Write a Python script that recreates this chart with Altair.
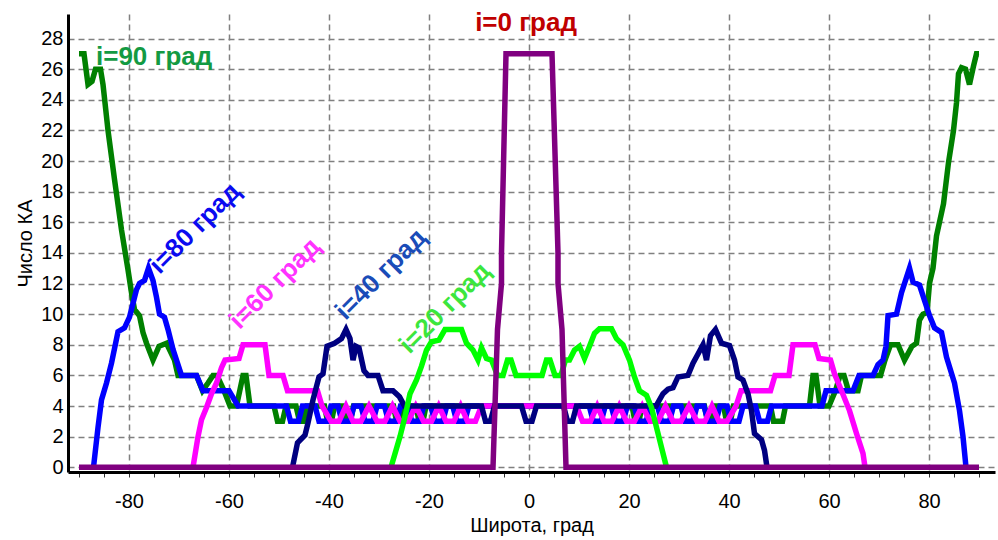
import altair as alt
import pandas as pd

# ---- data (latitude breakpoints, number of satellites) ----
i90_lat = [-90, -89, -88.2, -87.4, -86.7, -85.7, -85.2, -84.2, -82.9, -81.5, -80.2, -79.5, -78.9, -77.9, -77.2,
           -76.5, -75.2, -74, -72.5, -70.9, -70.2, -66.5, -65.3, -64.2, -63.2, -62.4, -61, -59.8, -58.5, -57.2,
           -56.6, -55.8, -51, -50.3, -49.3, -48.6, -46.6, -45.9, -45.1, -44.4, -40.9, -40.3, -39.5, -38.9, -37.1,
           -36.5, -35.7, -35.1, -27.1, -26.5, -25.8, -25.2, -22.6, -22, -21.2, -20.6,
           20.6, 21.2, 22, 22.6, 35.1, 35.7, 36.5, 37.1, 38.9, 39.5, 40.3, 40.9, 48.3, 48.9, 50.7, 51.3, 56.1,
           56.8, 57.4, 58.2, 60, 61.3, 62.2, 63, 63.9, 65.8, 66.5, 70.3, 71.2, 72.3, 73.8, 75.1, 76.6, 77.5, 78.1,
           78.8, 79.6, 80.1, 80.8, 81.5, 82.9, 83.9, 84.9, 85.5, 85.9, 86.5, 87.3, 88.1, 88.9, 89.5, 90]
i90_val = [27, 27, 25, 25.2, 26, 26, 25, 22, 18.8, 15.5, 12.9, 11.4, 10.3, 9.9, 8.8,
           8.1, 7, 7.9, 8.1, 7, 6, 6, 5, 5.5, 6, 6, 5, 4, 4, 6,
           6, 4, 4, 3, 3, 4, 4, 3, 3, 4, 4, 3, 3, 4, 4,
           3, 3, 4, 4, 3, 3, 4, 4, 3, 3, 4,
           4, 3, 3, 4, 4, 3, 3, 4, 4, 3, 3, 4, 4, 3, 3, 4, 4,
           6, 6, 4, 4, 5, 6, 6, 5, 5, 6, 6, 7, 8, 8, 7, 7.9, 8.1, 9.6,
           10, 10.1, 12, 13, 15.1, 17.2, 19.9, 22, 23.8, 25.7, 26.1, 26, 25, 26.2, 27, 27]

i80_lat = [-87.1, -86.2, -85.5, -84.5, -83.5, -82.2, -80.9, -79.9, -78.5, -77.9, -76.9, -76.1, -75.2, -74.5,
           -73.9, -72.9, -72.2, -71.2, -70.5, -69.5, -66.5, -65.2, -60, -58.2,
           -48.5, -47.7, -46.1, -45.3, -42.8, -42, -40.4, -39.6, -38.2, -37.4, -35.8, -35, -33.6, -32.8, -31.2,
           -30.4, -28.9, -28.1, -26.5, -25.7, -24.25, -23.45, -21.85, -21.05, -19.65, -18.85, -17.25, -16.45,
           -15.25, -14.45, -12.85, -12.05,
           12.05, 12.85, 14.45, 15.25, 16.45, 17.25, 18.85, 19.65, 21.05, 21.85, 23.45, 24.25, 25.7, 26.5, 28.1,
           28.9, 30.4, 31.2, 32.8, 33.6, 35, 35.8, 37.4, 38.2, 39.6, 40.4, 42, 42.8, 45.3, 46.1, 47.7, 48.5,
           58.6, 59.4, 64.8, 66, 68.8, 69.8, 70.8, 71.4, 71.8, 73.5, 74.5, 75.5, 76.1, 76.8, 78.1, 79.1, 80.1,
           81.1, 82.5, 83.5, 85.1, 86.1, 86.8, 87.4]
i80_val = [0, 2.6, 4.4, 5.5, 6.8, 8.85, 9.1, 9.8, 11.6, 12, 12.2, 13, 12.2, 11.1,
           10, 9.8, 9, 7.7, 7, 6, 6, 5, 5, 4,
           4, 3, 3, 4, 4, 3, 3, 4, 4, 3, 3, 4, 4, 3, 3,
           4, 4, 3, 3, 4, 4, 3, 3, 4, 4, 3, 3, 4,
           4, 3, 3, 4,
           4, 3, 3, 4, 4, 3, 3, 4, 4, 3, 3, 4, 4, 3, 3,
           4, 4, 3, 3, 4, 4, 3, 3, 4, 4, 3, 3, 4, 4, 3, 3, 4,
           4, 5, 5, 6, 6, 6.7, 7, 7.9, 9.9, 10, 11.4, 12.4, 13, 12.1, 11.9, 10.9, 9.9,
           9.1, 8.8, 7.2, 5.5, 3.7, 2, 0]

i60_lat = [-67.2, -66.2, -65.5, -64.5, -63.5, -62.5, -61.5, -60.8, -58, -57.2, -52.8, -52, -49.2, -48.3,
           -42.3, -41.4, -39.6, -38, -36.6, -35.2, -33.6, -32, -30.4, -28.8, -27.3, -25.8, -24.2, -22.65,
           -21.1, -19.5, -18.05, -16.6, -15, -13.65, -12.3, -10.7, -9.5,
           9.5, 10.7, 12.3, 13.65, 15, 16.6, 18.05, 19.5, 21.1, 22.65, 24.2, 25.8, 27.3, 28.8, 30.4, 32, 33.6,
           35.2, 36.6, 38, 39.6, 41.4, 42.4, 48.3, 49.2, 52, 52.8, 57.2, 58, 60.3, 61.1, 62.5, 64.1, 65.5,
           66.8, 67.2]
i60_val = [0, 2, 3.1, 3.9, 4.8, 5.5, 6.5, 7, 7.1, 8, 8, 6, 6, 5,
           5, 4, 3, 3, 4, 3, 3, 4, 3, 3, 4, 3, 3, 4,
           3, 3, 4, 3, 3, 4, 3, 3, 4,
           4, 3, 3, 4, 3, 3, 4, 3, 3, 4, 3, 3, 4, 3, 3, 4, 3,
           3, 4, 3, 3, 4, 5, 5, 6, 6, 8, 8, 7.1, 7, 6.1, 5, 3.7, 2.2,
           0.9, 0]

i40_lat = [-47.3, -46.3, -44.8, -44.2, -43.2, -42, -41.2, -40.4, -38.9, -37.5, -36.6, -35.8, -35.2, -34.6,
           -34, -33, -32.2, -30.2, -29.2, -27.2, -25.9, -24.9, -9.5, -8.7, -7.7, -6.9, -1.5, -0.6, 0.6, 1.5,
           6.9, 7.7, 8.7, 9.5, 25.4, 26.8, 27.8, 28.8, 29.8, 31.8, 32.8, 33.8, 34.8, 35.5, 36.3, 37.3, 38.5,
           40.1, 41.1, 41.8, 42.8, 43.8, 44.5, 45.1, 46.5, 47.1, 47.6]
i40_val = [0, 1.6, 2.1, 2.9, 4.4, 5.9, 6.1, 7.9, 8.1, 8.4, 9, 8.4, 7, 7.9,
           7.8, 6.3, 6, 6, 5, 5, 4.6, 4, 4, 3, 3, 4, 4, 3, 3, 4,
           4, 3, 3, 4, 4, 4.8, 5.1, 5.2, 5.9, 6, 6.8, 7.4, 8, 7, 8.6, 9, 8.1,
           7.95, 7, 5.9, 5.7, 4.8, 3.7, 2.2, 1.8, 1.1, 0]

i20_lat = [-27.6, -25.8, -24.8, -23.8, -22.5, -21.5, -20.5, -19.5, -18, -16.8, -13.5, -12.5, -11.2, -10.2,
           -9.5, -8.5, -7.5, -6.3, -5.2, -4.3, -3.6, -2.6, 2.6, 3.5, 4.2, 5.2, 6.4, 7.3, 8.1, 9.1, 10.1, 11.1,
           12.1, 13.1, 14.1, 16.5, 17.5, 18.8, 20.1, 21.1, 22.1, 23.5, 24.5, 25.5, 26.5, 27.5]
i20_val = [0, 2, 3.3, 4.8, 5.7, 6.6, 7.65, 8.2, 8.3, 9, 9, 8.1, 7.65, 7,
           7.8, 7.1, 7, 6, 6, 7, 7, 6, 6, 7, 7, 6, 6, 7, 7, 7.65, 7.9, 7.1,
           7.9, 8.75, 9.05, 9.05, 8.4, 8, 7, 5.9, 5, 4.7, 3.9, 2.6, 1.3, 0]

i0_lat = [-90, -7.2, -6.3, -5.5, -5.5, -4.6, 4.6, 5.8, 5.8, 6.6, 7.4, 90]
i0_val = [0, 0, 9, 12, 14, 27, 27, 14, 12, 9, 0, 0]

series_names = ["i=90", "i=80", "i=60", "i=40", "i=20", "i=0"]
series_colors = ["#008000", "#0000FF", "#FF00FF", "#000080", "#00FF00", "#800080"]
series_lats = [i90_lat, i80_lat, i60_lat, i40_lat, i20_lat, i0_lat]
series_vals = [i90_val, i80_val, i60_val, i40_val, i20_val, i0_val]

# annotations
ann_text = ["i=0 град", "i=90 град", "i=80 град", "i=60 град", "i=40 град", "i=20 град"]
ann_lat = [-0.6, -86.6, -66.8, -50.8, -29.6, -16.8]
ann_val = [29.0, 26.8, 15.6, 12.0, 12.6, 10.4]

x_ticks = [-90, -85, -80, -75, -70, -65, -60, -55, -50, -45, -40, -35, -30, -25, -20, -15, -10, -5, 0,
           5, 10, 15, 20, 25, 30, 35, 40, 45, 50, 55, 60, 65, 70, 75, 80, 85, 90]
y_ticks = [0, 2, 4, 6, 8, 10, 12, 14, 16, 18, 20, 22, 24, 26, 28]

rows = []
for name, lats, vals in zip(series_names, series_lats, series_vals):
    for k, (la, va) in enumerate(zip(lats, vals)):
        rows.append({"series": name, "idx": k, "lat": la, "val": va})
df = pd.DataFrame(rows)

FONT = "Liberation Sans"
xscale = alt.Scale(domain=[-92.2, 93.2], nice=False, zero=False)
yscale = alt.Scale(domain=[-0.31, 29.6], nice=False, zero=False)

x_axis = alt.Axis(
    values=x_ticks,
    title="Широта, град",
    labelExpr="datum.value % 20 === 0 ? '' + datum.value : ''",
    labelFont=FONT, labelFontSize=20, labelColor="#000000", labelPadding=14, labelOverlap=False,
    titleFont=FONT, titleFontSize=20, titleFontWeight="normal", titleColor="#000000", titlePadding=4,
    domainColor="#000000", domainWidth=3,
    tickColor="#333333", tickSize=5, tickWidth=1,
    grid=True, gridColor="#808080", gridDash=[6, 4], gridWidth=1.5,
    gridOpacity={"condition": {"test": "datum.value % 20 === 0", "value": 1}, "value": 0},
)
y_axis = alt.Axis(
    values=y_ticks,
    title="Число КА",
    labelFont=FONT, labelFontSize=20, labelColor="#000000", labelPadding=5, labelOverlap=False,
    titleFont=FONT, titleFontSize=20, titleFontWeight="normal", titleColor="#000000", titlePadding=5,
    domainColor="#000000", domainWidth=3, ticks=False,
    grid=True, gridColor="#808080", gridDash=[6, 4], gridWidth=1.5,
)

X = alt.X("lat:Q", scale=xscale, axis=x_axis)
Y = alt.Y("val:Q", scale=yscale, axis=y_axis)

layers = []
for name, col in zip(series_names, series_colors):
    layers.append(
        alt.Chart(df).transform_filter(alt.datum.series == name).mark_line(
            color=col, strokeWidth=5.5, clip=True
        ).encode(x=X, y=Y, order=alt.Order("idx:Q"))
    )

ann_df = pd.DataFrame({"label": ann_text, "lat": ann_lat, "val": ann_val})
ann_colors = ["#C00000", "#139A43", "#0A0AF0", "#FF33FF", "#1A4CB8", "#3CE63C"]
ann_angles = [0, 0, 315, 315, 315, 315]
ann_align = ["center", "left", "center", "center", "center", "center"]
for k in range(len(ann_text)):
    layers.append(
        alt.Chart(ann_df.iloc[[k]]).mark_text(
            font=FONT, fontSize=26, fontWeight="bold", color=ann_colors[k],
            angle=ann_angles[k], align=ann_align[k], baseline="middle",
        ).encode(x=X, y=Y, text="label:N")
    )

chart = alt.layer(*layers).properties(
    width=927, height=458,
    padding={"left": 68, "top": 14, "right": 3, "bottom": 68},
    autosize="none",
    background="white",
).configure_view(stroke=None)

chart.save("out.html", embed_options={"renderer": "svg", "actions": False})
